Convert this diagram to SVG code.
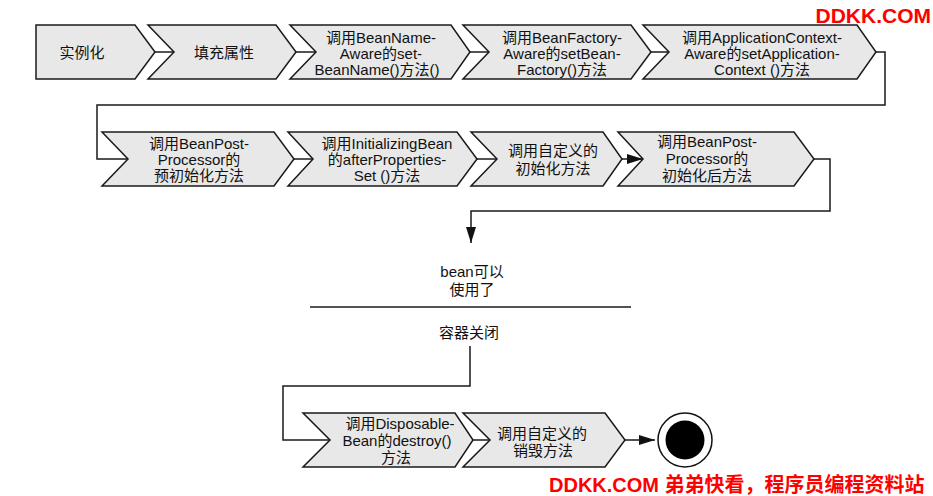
<svg xmlns="http://www.w3.org/2000/svg" width="933" height="496" viewBox="0 0 933 496">
<defs>
<style>
.shape{fill:#e8e8e8;stroke:#1a1a1a;stroke-width:1.5;stroke-linejoin:miter}
.t{font-family:"Liberation Sans","Noto Sans CJK SC",sans-serif;font-size:15px;fill:#111;text-anchor:middle}
.conn{fill:none;stroke:#1a1a1a;stroke-width:1.5}
.wm{font-family:"Liberation Sans","Noto Sans CJK SC",sans-serif;font-weight:bold;fill:#ff0000}
</style>
<marker id="arr" viewBox="0 0 16 10" refX="16" refY="5" markerWidth="16" markerHeight="10" markerUnits="userSpaceOnUse" orient="auto">
<path d="M0,0 L16,5 L0,10 Z" fill="#111"/>
</marker>
</defs>
<rect width="933" height="496" fill="#ffffff"/>

<g id="connectors">
<line class="conn" x1="155" y1="52" x2="174" y2="52"/>
<line class="conn" x1="296" y1="52" x2="316" y2="52"/>
<line class="conn" x1="470" y1="52" x2="489" y2="52"/>
<line class="conn" x1="651" y1="52" x2="669" y2="52"/>
<polyline class="conn" points="876,52 885,52 885,105 97,105 97,159 128,159"/>
<line class="conn" x1="294" y1="159" x2="313" y2="159"/>
<line class="conn" x1="477" y1="159" x2="497" y2="159"/>
<line class="conn" x1="622" y1="159" x2="643" y2="159" marker-end="url(#arr)"/>
<polyline class="conn" points="814,159 830,159 830,211 471,211 471,243" marker-end="url(#arr)"/>
<line class="conn" x1="310" y1="307" x2="631" y2="307"/>
<polyline class="conn" points="470,346 470,386 283,386 283,440 330,440"/>
<line class="conn" x1="473" y1="440" x2="490" y2="440"/>
<line class="conn" x1="625" y1="440" x2="655" y2="440" marker-end="url(#arr)"/>
</g>

<g id="n1">
<polygon class="shape" points="36,25 135,25 155,52 135,79 36,79"/>
<text class="t" x="82" y="58">实例化</text>
</g>
<g id="n2">
<polygon class="shape" points="148,25 276,25 296,52 276,79 148,79 174,52"/>
<text class="t" x="224" y="58">填充属性</text>
</g>
<g id="n3">
<polygon class="shape" points="290,25 451,25 470,52 451,79 290,79 316,52"/>
<text class="t" x="381" y="42.5">调用BeanName-</text>
<text class="t" x="381" y="58.5">Aware的set-</text>
<text class="t" x="377" y="74.5">BeanName()方法()</text>
</g>
<g id="n4">
<polygon class="shape" points="463,25 631,25 651,52 631,79 463,79 489,52"/>
<text class="t" x="562" y="42.5">调用BeanFactory-</text>
<text class="t" x="562" y="58.5">Aware的setBean-</text>
<text class="t" x="562" y="74.5">Factory()方法</text>
</g>
<g id="n5">
<polygon class="shape" points="643,25 857,25 876,52 857,79 643,79 669,52"/>
<text class="t" x="762" y="42.5">调用ApplicationContext-</text>
<text class="t" x="762" y="58.5">Aware的setApplication-</text>
<text class="t" x="762" y="74.5">Context ()方法</text>
</g>

<g id="n6">
<polygon class="shape" points="102,132 274,132 294,159 274,186 102,186 128,159"/>
<text class="t" x="199" y="148.5">调用BeanPost-</text>
<text class="t" x="199" y="164.5">Processor的</text>
<text class="t" x="199" y="180.5">预初始化方法</text>
</g>
<g id="n7">
<polygon class="shape" points="288,132 457,132 477,159 457,186 288,186 313,159"/>
<text class="t" x="387" y="148.5">调用InitializingBean</text>
<text class="t" x="387" y="164.5">的afterProperties-</text>
<text class="t" x="387" y="180.5">Set ()方法</text>
</g>
<g id="n8">
<polygon class="shape" points="471,132 603,132 622,159 603,186 471,186 497,159"/>
<text class="t" x="553" y="155.5">调用自定义的</text>
<text class="t" x="553" y="173.5">初始化方法</text>
</g>
<g id="n9">
<polygon class="shape" points="618,132 794,132 814,159 794,186 618,186 643,159"/>
<text class="t" x="707" y="146.5">调用BeanPost-</text>
<text class="t" x="707" y="163.5">Processor的</text>
<text class="t" x="707" y="180.5">初始化后方法</text>
</g>

<g id="n-ready">
<text class="t" x="472" y="276.5">bean可以</text>
<text class="t" x="472" y="294.5">使用了</text>
</g>
<g id="n-close">
<text class="t" x="469" y="337.5">容器关闭</text>
</g>

<g id="n10">
<polygon class="shape" points="303,413 455,413 473,440 455,467 303,467 330,440"/>
<text class="t" x="400" y="428.5">调用Disposable-</text>
<text class="t" x="397" y="445.5">Bean的destroy()</text>
<text class="t" x="396" y="463">方法</text>
</g>
<g id="n11">
<polygon class="shape" points="463,413 605,413 625,440 605,467 463,467 490,440"/>
<text class="t" x="542" y="438.5">调用自定义的</text>
<text class="t" x="543" y="455.5">销毁方法</text>
</g>
<g id="n-end">
<circle cx="685" cy="440" r="27" fill="#ffffff" stroke="#111" stroke-width="1.5"/>
<circle cx="685" cy="440" r="19.5" fill="#000"/>
</g>

<g id="watermark">
<text class="wm" x="931" y="23" font-size="21" text-anchor="end">DDKK.COM</text>
<text class="wm" x="549" y="492" font-size="20">DDKK.COM 弟弟快看，程序员编程资料站</text>
</g>
</svg>
